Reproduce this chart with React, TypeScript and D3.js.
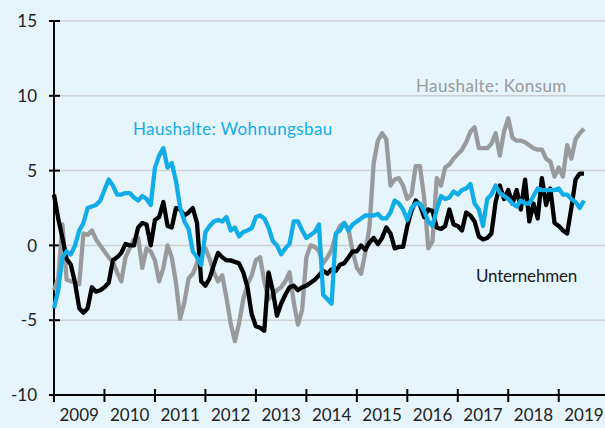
import React from 'react';
import * as d3 from 'd3';

const yearLabels = ['2009', '2010', '2011', '2012', '2013', '2014', '2015', '2016', '2017', '2018', '2019'];
const yTicks = [-10, -5, 0, 5, 10, 15];
const gridValues = [-5, 0, 5, 10, 15];

// monthly values, Jan 2009 .. Jul 2019
const unternehmen = [
  3.4, 1.8, 0.5, -0.9, -1.3, -2.5, -4.2, -4.5, -4.2, -2.8, -3.1, -3.0,
  -2.8, -2.5, -1.0, -0.8, -0.5, 0.1, 0.0, 0.0, 1.2, 1.5, 1.4, 0.0,
  1.7, 1.9, 2.9, 1.3, 1.2, 2.5, 2.4, 2.0, 2.2, 2.5, 1.5, -2.4,
  -2.7, -2.2, -1.3, -0.5, -0.8, -1.0, -1.0, -1.1, -1.2, -1.8, -2.8, -4.6,
  -5.4, -5.5, -5.7, -1.8, -3.0, -4.7, -3.9, -3.3, -2.8, -2.7, -3.0, -2.8,
  -2.7, -2.5, -2.3, -2.0, -1.7, -1.9, -1.6, -1.7, -1.3, -1.2, -0.8, -0.4,
  -0.4, 0.0, -0.3, 0.2, 0.5, 0.1, 0.5, 1.2, 0.8, -0.2, -0.1, -0.1,
  1.3, 2.3, 3.0, 2.7, 1.9, 2.4, 2.3, 1.2, 1.1, 1.3, 2.4, 1.4,
  1.3, 1.0, 2.2, 2.0, 1.6, 0.6, 0.4, 0.5, 0.8, 2.9, 4.0, 3.1,
  3.7, 2.8, 3.7, 2.4, 4.4, 1.6, 2.8, 1.8, 4.5, 2.7, 3.8, 1.5,
  1.3, 1.0, 0.8, 2.5, 4.4, 4.8, 4.8,
];

const konsum = [
  -3.0, -2.2, 1.4, -2.3, -2.4, -2.5, -2.6, 0.8, 0.7, 1.0, 0.4, 0.0,
  -0.4, -0.8, -1.1, -1.8, -2.4, -0.8, -0.2, 0.4, 0.5, -1.5, -0.2, -0.4,
  -1.0, -2.4, -1.5, 0.0, -0.8, -2.5, -4.9, -3.8, -2.2, -1.9, -1.2, -0.3,
  -0.2, -0.9, -1.8, -2.4, -2.0, -3.5, -5.2, -6.4, -5.2, -3.6, -2.6, -2.0,
  -1.0, -0.8, -2.4, -3.6, -3.3, -3.0, -2.8, -2.4, -1.8, -3.8, -5.3, -4.3,
  -0.8, 0.0, -0.1, -0.4, -1.2, -0.8, -0.3, 0.7, 1.3, 1.5, 1.1, -0.4,
  -1.5, -1.9, -0.5, 1.2, 5.5, 7.0, 7.5, 7.1, 4.0, 4.4, 4.5, 4.0,
  3.1, 3.4, 5.3, 5.3, 3.2, -0.2, 0.3, 4.5, 4.0, 5.2, 5.4, 5.8,
  6.1, 6.4, 6.9, 7.6, 7.9, 6.5, 6.5, 6.5, 6.8, 7.5, 6.0, 7.6,
  8.5, 7.2, 7.0, 7.0, 6.9, 6.7, 6.5, 6.4, 6.4, 5.8, 5.6, 4.6,
  5.2, 4.6, 6.7, 5.8, 7.1, 7.5, 7.8,
];

const wohnungsbau = [
  -4.2, -3.0, -0.8, -0.4, -0.6, 0.0, 1.0, 1.5, 2.5, 2.6, 2.7, 3.0,
  3.7, 4.4, 4.0, 3.4, 3.4, 3.5, 3.5, 3.2, 3.0, 3.3, 3.1, 2.7,
  5.2, 6.0, 6.5, 5.2, 5.5, 4.3, 2.5, 1.6, 1.1, -0.4, -0.8, -1.3,
  0.9, 1.3, 1.6, 1.7, 1.6, 1.9, 1.0, 1.2, 0.6, 0.9, 1.0, 1.15,
  1.9, 2.0, 1.8, 1.2, 0.3, 0.0, -0.6, -0.2, 0.1, 1.6, 1.6, 1.0,
  0.5, 0.7, 0.9, 1.4, -3.3, -3.6, -3.9, 0.8, 1.0, 1.5, 1.0, 1.4,
  1.6, 1.8, 2.0, 2.0, 2.0, 2.1, 1.8, 1.8, 2.2, 3.0, 2.8, 2.4,
  1.7, 2.5, 2.8, 2.8, 2.3, 1.6, 1.3, 2.4, 3.3, 3.1, 3.2, 3.6,
  3.4, 3.7, 3.8, 4.1, 2.8, 2.4, 1.3, 3.1, 3.4, 4.0, 3.5, 3.3,
  3.1, 2.8, 2.6, 3.0, 2.8, 2.8, 3.3, 3.8, 3.7, 3.7, 3.7, 3.7,
  3.8, 3.4, 3.4, 3.1, 2.9, 2.5, 3.0,
];

const seriesLabels = ['Haushalte: Konsum', 'Haushalte: Wohnungsbau', 'Unternehmen'];

const W = 605;
const H = 428;
const FONT = 'Lato, "Open Sans", sans-serif';

export default function App() {
  const x = d3.scaleLinear().domain([0, 131]).range([54, 605]);
  const y = d3.scaleLinear().domain([-10, 15]).range([395, 21]);
  const line = d3
    .line<number>()
    .x((_, i) => x(i))
    .y((d) => y(d))
    .curve(d3.curveLinear);

  const yearTicks = yearLabels.map((_, i) => i * 12);

  return (
    <svg
      width={W}
      height={H}
      style={{ position: 'absolute', left: 0, top: 0, display: 'block' }}
      fontFamily={FONT}
    >
      <rect x={0} y={0} width={W} height={H} fill="#e6f4fc" />
      {gridValues.map((v) => (
        <line key={v} x1={x(0)} x2={W} y1={y(v)} y2={y(v)} stroke="#cfcfd2" strokeWidth={1.5} />
      ))}
      {/* y axis */}
      <line x1={x(0)} x2={x(0)} y1={y(15)} y2={y(-10)} stroke="#000" strokeWidth={2} />
      {yTicks.map((v) => (
        <g key={v}>
          <line x1={x(0) - 5} x2={x(0) + 6} y1={y(v)} y2={y(v)} stroke="#000" strokeWidth={2} />
          <text x={37} y={y(v)} dy="0.36em" textAnchor="end" fontSize={17} fill="#222">
            {v}
          </text>
        </g>
      ))}
      {/* x axis */}
      <line x1={x(0)} x2={W} y1={y(-10)} y2={y(-10)} stroke="#000" strokeWidth={2} />
      {yearTicks.map((m) => (
        <line key={m} x1={x(m)} x2={x(m)} y1={y(-10) - 6} y2={y(-10) + 7} stroke="#000" strokeWidth={2} />
      ))}
      {yearLabels.map((lab, i) => (
        <text key={lab} x={x(i * 12 + 6)} y={421} textAnchor="middle" fontSize={17} fill="#222">
          {lab}
        </text>
      ))}

      <path d={line(konsum) || ''} fill="none" stroke="#999a9c" strokeWidth={4.3} strokeLinejoin="round" />
      <path d={line(unternehmen) || ''} fill="none" stroke="#000" strokeWidth={4.3} strokeLinejoin="round" />
      <path d={line(wohnungsbau) || ''} fill="none" stroke="#10ade8" strokeWidth={4.3} strokeLinejoin="round" />

      <text x={416} y={92} fontSize={17} fill="#9a9a9c" letterSpacing={0.38}>
        {seriesLabels[0]}
      </text>
      <text x={133} y={135} fontSize={17} fill="#12aee8" letterSpacing={0.38}>
        {seriesLabels[1]}
      </text>
      <text x={476} y={282} fontSize={17} fill="#1a1a1a" letterSpacing={-0.2}>
        {seriesLabels[2]}
      </text>
    </svg>
  );
}
